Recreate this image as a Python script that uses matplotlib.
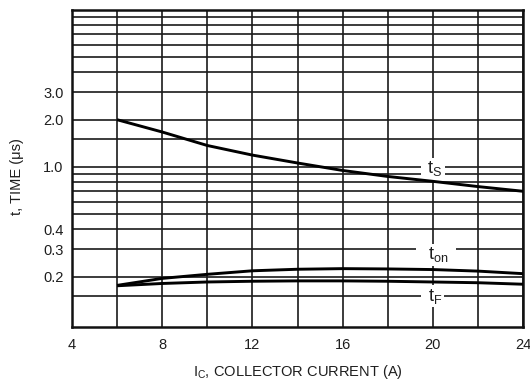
import matplotlib
matplotlib.use("Agg")
import matplotlib.pyplot as plt
from matplotlib import font_manager

# ---------------- data ----------------
ic = [6, 8, 10, 12, 14, 16, 18, 20, 22, 24]
t_s = [2.0, 1.67, 1.37, 1.19, 1.06, 0.95, 0.87, 0.81, 0.75, 0.70]
t_on = [0.176, 0.195, 0.207, 0.218, 0.223, 0.225, 0.224, 0.222, 0.217, 0.209]
t_f = [0.175, 0.181, 0.185, 0.187, 0.188, 0.188, 0.187, 0.185, 0.183, 0.179]

x_ticks = [4, 6, 8, 10, 12, 14, 16, 18, 20, 22, 24]
x_labeled = [4, 8, 12, 16, 20, 24]
y_grid = [0.15, 0.2, 0.3, 0.4, 0.5, 0.6, 0.7, 0.8, 0.9, 1.0,
          1.5, 2.0, 3.0, 4.0, 5.0, 6.0, 7.0, 8.0, 9.0]
y_labels = {0.2: "0.2", 0.3: "0.3", 0.4: "0.4", 1.0: "1.0", 2.0: "2.0", 3.0: "3.0"}

# ---------------- fonts ----------------
names = {f.name for f in font_manager.fontManager.ttflist}
base = "Liberation Sans Narrow" if "Liberation Sans Narrow" in names else "Liberation Sans"
plt.rcParams["font.family"] = [base, "DejaVu Sans"]
plt.rcParams["mathtext.fontset"] = "custom"
plt.rcParams["mathtext.rm"] = base
plt.rcParams["mathtext.it"] = base
plt.rcParams["mathtext.bf"] = base

fig = plt.figure(figsize=(5.30, 3.83), dpi=100)
ax = fig.add_axes([72 / 530, 1 - 326.7 / 383, (523 - 72) / 530, (326.7 - 10) / 383])

ax.set_yscale("log")
ax.set_xlim(4, 24)
ax.set_ylim(0.096, 10.0)
ax.minorticks_off()

ax.set_xticks(x_ticks)
ax.set_xticklabels([str(v) if v in x_labeled else "" for v in x_ticks])
ax.set_yticks(y_grid)
ax.set_yticklabels([y_labels.get(v, "") for v in y_grid])
ax.minorticks_off()
ax.tick_params(axis="both", length=0, labelsize=10.5, colors="#1e1e1e")
ax.tick_params(axis="x", pad=8)
ax.tick_params(axis="y", pad=6)

ax.grid(True, which="major", color="#1a1a1a", lw=1.2)
for sp in ax.spines.values():
    sp.set_linewidth(1.8)
    sp.set_color("#111111")

lw = 2.1
ax.plot(ic, t_s, color="black", lw=lw, zorder=5, solid_capstyle="butt")
ax.plot(ic, t_on, color="black", lw=lw, zorder=5, solid_capstyle="butt")
ax.plot(ic, t_f, color="black", lw=lw, zorder=5, solid_capstyle="butt")

box = dict(facecolor="white", edgecolor="none", pad=1.0)
ax.text(20, 0.975, " t$_{\\mathrm{S}}$ ", ha="center", va="center", fontsize=13,
        color="#1e1e1e", bbox=box, zorder=4)
ax.text(20.15, 0.276, "  t$_{\\mathrm{on}}$  ", ha="center", va="center", fontsize=13,
        color="#1e1e1e", bbox=box, zorder=4)
ax.text(20, 0.150, " t$_{\\mathrm{F}}$ ", ha="center", va="center", fontsize=13,
        color="#1e1e1e", bbox=box, zorder=4)

fig.text(297.5 / 530, 1 - 372 / 383, "I$_{\\mathrm{C}}$, COLLECTOR CURRENT (A)",
         ha="center", va="center", fontsize=10.5, color="#1e1e1e")
fig.text(17 / 530, 1 - 177 / 383, "t, TIME (\u03bcs)", rotation=90,
         ha="center", va="center", fontsize=10.5, color="#1e1e1e")

fig.savefig("out.png", dpi=100)
